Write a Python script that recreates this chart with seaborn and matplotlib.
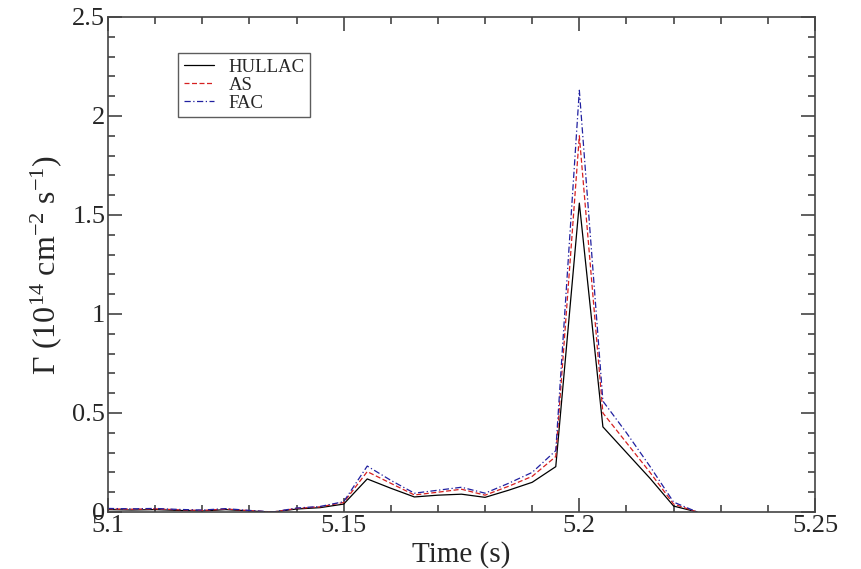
import numpy as np
import pandas as pd
import matplotlib
matplotlib.use("Agg")
import matplotlib.pyplot as plt
import seaborn as sns
from matplotlib.ticker import MultipleLocator

time = [5.100, 5.105, 5.110, 5.115, 5.120, 5.125, 5.130, 5.135, 5.140, 5.145,
        5.150, 5.155, 5.160, 5.165, 5.170, 5.175, 5.180, 5.185, 5.190, 5.195,
        5.200, 5.205, 5.210, 5.215, 5.220, 5.225]
hullac = [0.012, 0.010, 0.012, 0.008, 0.005, 0.012, 0.005, 0.0, 0.015, 0.022,
          0.040, 0.167, 0.120, 0.076, 0.085, 0.090, 0.074, 0.110, 0.150, 0.229,
          1.56, 0.43, 0.30, 0.17, 0.030, 0.0]
as_vals = [0.016, 0.014, 0.016, 0.011, 0.008, 0.015, 0.007, 0.0, 0.018, 0.026,
           0.048, 0.204, 0.145, 0.086, 0.100, 0.115, 0.085, 0.130, 0.180, 0.280,
           1.90, 0.50, 0.35, 0.20, 0.040, 0.0]
fac = [0.018, 0.016, 0.018, 0.013, 0.010, 0.017, 0.008, 0.0, 0.020, 0.028,
       0.052, 0.232, 0.160, 0.095, 0.110, 0.125, 0.095, 0.145, 0.200, 0.310,
       2.13, 0.56, 0.40, 0.23, 0.050, 0.0]

series_names = ["HULLAC", "AS", "FAC"]
series_vals = [hullac, as_vals, fac]
colors = ["#000000", "#d62020", "#2020a0"]
styles = ["-", (0, (4, 2)), (0, (5, 2, 1, 2))]

sns.set_style("ticks")
plt.rcParams["font.family"] = ["Liberation Serif", "DejaVu Serif"]
plt.rcParams["mathtext.fontset"] = "custom"
plt.rcParams["mathtext.rm"] = "Liberation Serif"
plt.rcParams["mathtext.it"] = "Liberation Serif:italic"

fig = plt.figure(figsize=(8.61, 5.69), dpi=100)
ax = fig.add_axes([108/861, 1-512/569, (815-108)/861, (512-17)/569])

for name, vals, c, ls in zip(series_names, series_vals, colors, styles):
    df = pd.DataFrame({"Time": time, "Gamma": vals})
    sns.lineplot(data=df, x="Time", y="Gamma", ax=ax, color=c, linestyle=ls,
                 linewidth=0.9, label=name)

ax.set_xlim(5.1, 5.25)
ax.set_ylim(0, 2.5)
ax.xaxis.set_minor_locator(MultipleLocator(0.01))
ax.yaxis.set_minor_locator(MultipleLocator(0.1))
ax.set_xticks([5.1, 5.15, 5.2, 5.25])
ax.set_xticklabels(["5.1", "5.15", "5.2", "5.25"])
ax.set_yticks([0, 0.5, 1, 1.5, 2, 2.5])
ax.set_yticklabels(["0", "0.5", "1", "1.5", "2", "2.5"])

ax.tick_params(which="both", direction="in", top=True, right=True,
               color="#444444", width=1.2)
ax.tick_params(which="major", length=10, labelsize=19, pad=2)
ax.tick_params(which="minor", length=5)
for sp in ax.spines.values():
    sp.set_color("#444444")
    sp.set_linewidth(1.2)

ax.set_xlabel("Time (s)", fontsize=21, labelpad=3)
ax.set_ylabel(r"$\Gamma\ (10^{14}\ \mathrm{cm}^{-2}\ \mathrm{s}^{-1})$", fontsize=23, labelpad=6)

leg = ax.legend(loc="upper left", bbox_to_anchor=((178-108)/707, (512-53)/495),
                borderaxespad=0, frameon=True, fancybox=False, shadow=False,
                fontsize=13.5, handlelength=1.6, borderpad=0.3,
                labelspacing=0.05, handletextpad=0.8)
leg.get_frame().set_edgecolor("#333333")
leg.get_frame().set_linewidth(1.0)

fig.savefig("out.png", dpi=100)
